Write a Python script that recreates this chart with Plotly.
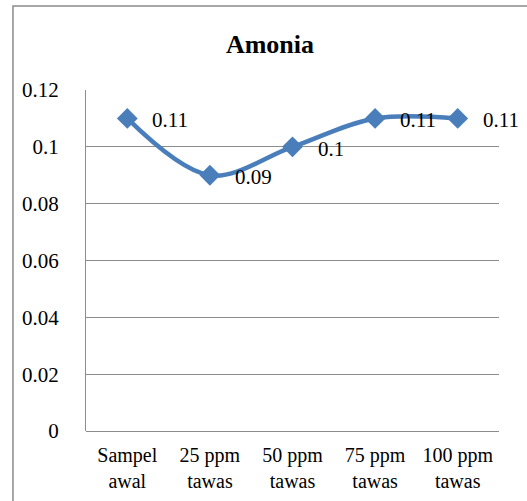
import plotly.graph_objects as go

# Ammonia concentration per alum dose
categories = ["Sampel<br>awal", "25 ppm<br>tawas", "50 ppm<br>tawas", "75 ppm<br>tawas", "100 ppm<br>tawas"]
amonia = [0.11, 0.09, 0.10, 0.11, 0.11]
value_labels = ["0.11", "0.09", "0.1", "0.11", "0.11"]
y_ticks = [0, 0.02, 0.04, 0.06, 0.08, 0.1, 0.12]
y_tick_text = ["0", "0.02", "0.04", "0.06", "0.08", "0.1", "0.12"]

BLUE = "#4A7EBB"
GRID = "#8C8C8C"
FONT = "Liberation Serif, Times New Roman, serif"

fig = go.Figure()
fig.add_trace(go.Scatter(
    x=categories,
    y=amonia,
    mode="lines+markers",
    line=dict(color=BLUE, width=4.5, shape="spline", smoothing=1),
    marker=dict(symbol="diamond", size=16, color=BLUE),
    showlegend=False,
    hoverinfo="skip",
))

for cat, val, txt in zip(categories, amonia, value_labels):
    fig.add_annotation(
        x=cat, y=val, text=txt, showarrow=False,
        xanchor="left", yanchor="middle", xshift=23, yshift=-2,
        font=dict(family=FONT, size=21, color="black"),
    )

# Outer chart frame
fig.add_shape(
    type="rect", xref="paper", yref="paper",
    x0=-0.1768, y0=-0.35, x1=1.3, y1=1.2463,
    line=dict(color="#8A8A8A", width=1.5), fillcolor="rgba(0,0,0,0)", layer="below",
)

fig.update_layout(
    width=527, height=501,
    margin=dict(l=86, r=28, t=90, b=70, autoexpand=False),
    paper_bgcolor="white", plot_bgcolor="white",
    font=dict(family=FONT, size=21, color="black"),
    title=dict(
        text="Amonia", x=0.4455, xref="paper", xanchor="center",
        y=1 - 44 / 501, yanchor="middle",
        font=dict(family=FONT, size=26, color="black", weight="bold"),
    ),
    xaxis=dict(
        range=[-0.5, 4.5], automargin=False,
        showgrid=False, showline=False, zeroline=False, ticks="",
        tickfont=dict(family=FONT, size=20), ticklabelstandoff=10,
    ),
    yaxis=dict(
        range=[0, 0.12], tickvals=y_ticks, ticktext=y_tick_text, automargin=False,
        showgrid=True, gridcolor=GRID, gridwidth=1,
        showline=True, linecolor=GRID, linewidth=1,
        zeroline=True, zerolinecolor=GRID, zerolinewidth=1,
        ticks="", ticklabelstandoff=22,
        tickfont=dict(family=FONT, size=21),
    ),
)

fig.write_html("out.html")
